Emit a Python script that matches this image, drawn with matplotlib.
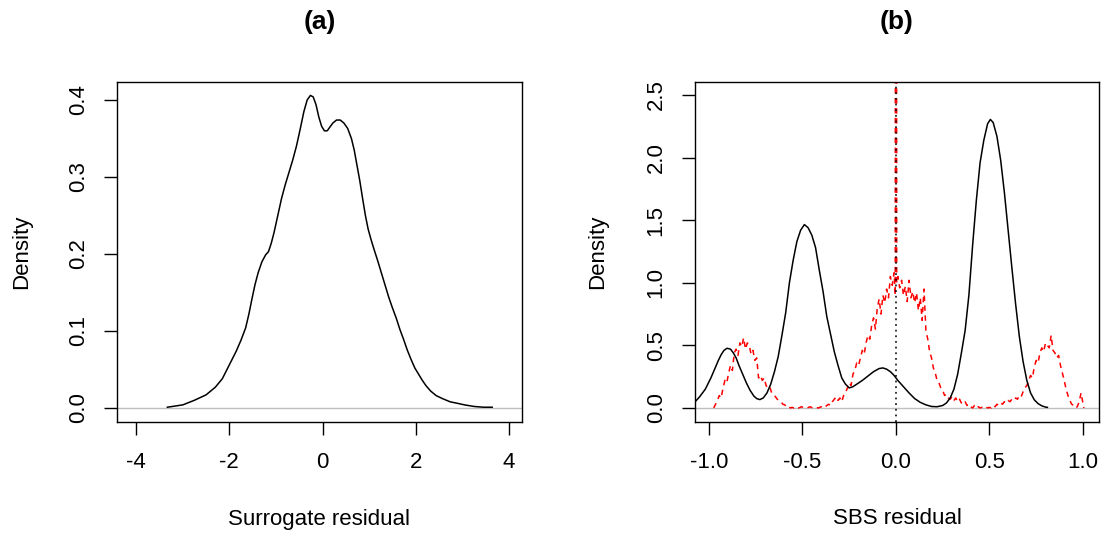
import matplotlib
matplotlib.use("Agg")
import matplotlib.pyplot as plt

plt.rcParams['font.family'] = ['Liberation Sans', 'DejaVu Sans']

# ---- Panel (a): surrogate residual density ----
a_x = [-3.33, -3.0, -2.75, -2.5, -2.3, -2.15, -2.05, -1.95, -1.85, -1.75, -1.65,
       -1.58, -1.52, -1.45, -1.38, -1.30, -1.22, -1.16, -1.10, -1.04, -0.96, -0.88,
       -0.80, -0.72, -0.64, -0.56, -0.48, -0.40, -0.33, -0.26, -0.20, -0.14, -0.08,
       -0.02, 0.04, 0.10, 0.16, 0.22, 0.30, 0.38, 0.46, 0.54, 0.62, 0.68, 0.74,
       0.80, 0.86, 0.92, 0.98, 1.04, 1.10, 1.18, 1.26, 1.34, 1.42, 1.50, 1.58,
       1.66, 1.74, 1.82, 1.90, 1.98, 2.06, 2.14, 2.22, 2.32, 2.44, 2.58, 2.74,
       2.90, 3.05, 3.25, 3.45, 3.64]
a_y = [0.001, 0.004, 0.010, 0.017, 0.027, 0.038, 0.050, 0.062, 0.074, 0.088, 0.104,
       0.122, 0.140, 0.160, 0.176, 0.190, 0.199, 0.203, 0.214, 0.228, 0.250, 0.272,
       0.290, 0.306, 0.322, 0.340, 0.362, 0.385, 0.400, 0.406, 0.404, 0.394, 0.378,
       0.366, 0.360, 0.360, 0.365, 0.370, 0.374, 0.374, 0.370, 0.363, 0.350, 0.335, 0.315,
       0.295, 0.272, 0.250, 0.232, 0.219, 0.207, 0.192, 0.176, 0.160, 0.144, 0.130, 0.117,
       0.102, 0.089, 0.075, 0.063, 0.052, 0.044, 0.036, 0.029, 0.022, 0.016, 0.012, 0.008,
       0.006, 0.004, 0.002, 0.001, 0.001]
a_xticks = [-4, -2, 0, 2, 4]
a_yticks = [0.0, 0.1, 0.2, 0.3, 0.4]

# ---- Panel (b): SBS residual density (black) ----
b_x = [-1.12, -1.08, -1.05, -1.02, -0.99, -0.97, -0.95, -0.935, -0.92, -0.904, -0.885,
       -0.870, -0.855, -0.84, -0.82, -0.80, -0.78, -0.76, -0.745, -0.728, -0.71, -0.69,
       -0.67, -0.65, -0.63, -0.61, -0.59, -0.57, -0.55, -0.53, -0.51, -0.49, -0.47,
       -0.45, -0.43, -0.41, -0.39, -0.37, -0.35, -0.33, -0.31, -0.29, -0.27, -0.25,
       -0.23, -0.21, -0.18, -0.15, -0.12, -0.09, -0.07, -0.05, -0.03, -0.01, 0.01,
       0.04, 0.07, 0.10, 0.13, 0.16, 0.19, 0.22, 0.25, 0.27, 0.29, 0.31, 0.33, 0.35,
       0.37, 0.39, 0.41, 0.43, 0.45, 0.47, 0.49, 0.505, 0.52, 0.54, 0.56, 0.58, 0.60,
       0.62, 0.64, 0.66, 0.68, 0.70, 0.72, 0.74, 0.76, 0.78, 0.80, 0.81]
b_y = [0.0, 0.04, 0.09, 0.15, 0.24, 0.31, 0.38, 0.426, 0.46, 0.477, 0.47,
       0.44, 0.40, 0.34, 0.27, 0.20, 0.14, 0.095, 0.075, 0.067, 0.08, 0.12,
       0.19, 0.29, 0.41, 0.58, 0.76, 1.00, 1.18, 1.33, 1.42, 1.465, 1.44,
       1.38, 1.28, 1.10, 0.93, 0.73, 0.59, 0.45, 0.34, 0.24, 0.19, 0.16,
       0.17, 0.19, 0.22, 0.255, 0.29, 0.315, 0.32, 0.31, 0.29, 0.26, 0.22,
       0.17, 0.12, 0.075, 0.045, 0.025, 0.012, 0.010, 0.02, 0.04, 0.08, 0.15, 0.27, 0.44,
       0.62, 0.90, 1.30, 1.66, 1.96, 2.14, 2.27, 2.305, 2.28, 2.17, 1.98, 1.72, 1.42,
       1.12, 0.83, 0.57, 0.37, 0.22, 0.12, 0.065, 0.035, 0.017, 0.007, 0.005]

# ---- Panel (b): red dashed density ----
r_x = [-0.975, -0.965, -0.955, -0.945, -0.935, -0.925, -0.915, -0.905, -0.895, -0.885,
       -0.875, -0.865, -0.855, -0.845, -0.835, -0.825, -0.815, -0.805, -0.795, -0.785,
       -0.775, -0.765, -0.755, -0.745, -0.735, -0.725, -0.715, -0.705, -0.695, -0.685,
       -0.675, -0.665, -0.655, -0.645, -0.635, -0.625, -0.615, -0.605, -0.595, -0.585,
       -0.575, -0.565, -0.555, -0.545, -0.535, -0.52, -0.505, -0.49, -0.475, -0.46,
       -0.445, -0.43, -0.415, -0.40, -0.385, -0.37, -0.36, -0.35, -0.34, -0.33,
       -0.32, -0.31, -0.30, -0.29, -0.28, -0.27, -0.26, -0.25, -0.24, -0.23,
       -0.22, -0.21, -0.20, -0.19, -0.18, -0.17, -0.16, -0.15, -0.14, -0.13,
       -0.12, -0.11, -0.10, -0.09, -0.08, -0.07, -0.06, -0.05, -0.04, -0.03,
       -0.02, -0.01, -0.004, 0.0, 0.004, 0.01, 0.02, 0.03, 0.04, 0.05,
       0.06, 0.07, 0.08, 0.09, 0.10, 0.11, 0.12, 0.13, 0.14, 0.15,
       0.16, 0.17, 0.18, 0.19, 0.20, 0.21, 0.22, 0.23, 0.24, 0.25,
       0.26, 0.27, 0.28, 0.29, 0.30, 0.31, 0.32, 0.33, 0.34, 0.35,
       0.36, 0.37, 0.38, 0.39, 0.40, 0.41, 0.42, 0.43, 0.44, 0.45,
       0.46, 0.47, 0.48, 0.49, 0.50, 0.51, 0.52, 0.53, 0.54, 0.55,
       0.56, 0.57, 0.58, 0.59, 0.60, 0.61, 0.62, 0.63, 0.64, 0.65,
       0.66, 0.67, 0.68, 0.69, 0.70, 0.71, 0.72, 0.73, 0.74, 0.75,
       0.76, 0.77, 0.78, 0.79, 0.80, 0.81, 0.82, 0.83, 0.84, 0.85,
       0.86, 0.87, 0.88, 0.89, 0.90, 0.91, 0.92, 0.93, 0.94, 0.95,
       0.96, 0.97, 0.98, 0.99, 1.00, 1.005]
r_y = [0.0, 0.03, 0.06, 0.10, 0.08, 0.16, 0.22, 0.20, 0.28, 0.34,
       0.30, 0.44, 0.47, 0.42, 0.52, 0.49, 0.56, 0.47, 0.52, 0.50,
       0.43, 0.46, 0.38, 0.40, 0.24, 0.26, 0.22, 0.24, 0.18, 0.16,
       0.17, 0.12, 0.11, 0.09, 0.07, 0.06, 0.05, 0.03, 0.025, 0.01,
       0.015, 0.0, 0.005, 0.0, 0.01, 0.0, 0.01, 0.0, 0.0, 0.01,
       0.0, 0.005, 0.0, 0.01, 0.0, 0.02, 0.03, 0.02, 0.05, 0.07,
       0.09, 0.06, 0.08, 0.05, 0.10, 0.12, 0.16, 0.20, 0.18, 0.27,
       0.30, 0.36, 0.34, 0.40, 0.46, 0.43, 0.52, 0.58, 0.55, 0.66,
       0.72, 0.63, 0.80, 0.87, 0.75, 0.90, 0.84, 0.95, 0.88, 1.05,
       0.98, 1.08, 0.90, 12.0, 1.00, 1.05, 0.96, 1.02, 0.90, 0.97,
       0.85, 1.02, 0.88, 0.93, 0.84, 0.92, 0.78, 0.88, 0.70, 0.95,
       0.62, 0.55, 0.45, 0.40, 0.32, 0.28, 0.22, 0.20, 0.16, 0.14,
       0.10, 0.11, 0.08, 0.07, 0.09, 0.06, 0.08, 0.05, 0.07, 0.04,
       0.03, 0.05, 0.02, 0.03, 0.01, 0.0, 0.02, 0.0, 0.01, 0.0,
       0.005, 0.0, 0.01, 0.0, 0.005, 0.0, 0.02, 0.01, 0.03, 0.02,
       0.04, 0.03, 0.05, 0.04, 0.06, 0.05, 0.07, 0.06, 0.08, 0.07,
       0.10, 0.09, 0.13, 0.16, 0.18, 0.22, 0.26, 0.24, 0.33, 0.38,
       0.36, 0.44, 0.48, 0.45, 0.52, 0.50, 0.48, 0.58, 0.46, 0.44,
       0.40, 0.42, 0.34, 0.28, 0.22, 0.15, 0.10, 0.06, 0.03, 0.02,
       0.0, 0.01, 0.05, 0.12, 0.04, 0.0]
b_xticks = [-1.0, -0.5, 0.0, 0.5, 1.0]
b_yticks = [0.0, 0.5, 1.0, 1.5, 2.0, 2.5]

W, H = 1102, 535
fig = plt.figure(figsize=(W / 100, H / 100), dpi=100)

def px_axes(left, right, top, bottom):
    return fig.add_axes([left / W, (H - bottom) / H, (right - left) / W, (bottom - top) / H])

ax1 = px_axes(117, 522, 82, 422)
ax2 = px_axes(695, 1099, 82, 422)

FS = 16
TITLE_FS = 19

def style(ax, xticks, yticks, xfmt, yfmt, xlabel, title):
    for s in ax.spines.values():
        s.set_linewidth(1.0)
        s.set_color('black')
    ax.set_xticks(xticks)
    ax.set_xticklabels([xfmt(v) for v in xticks])
    ax.set_yticks(yticks)
    ax.set_yticklabels([yfmt(v) for v in yticks], rotation=90, va='center')
    ax.tick_params(axis='both', direction='out', length=9.4, width=1.0,
                   labelsize=FS, colors='black')
    ax.tick_params(axis='x', pad=12)
    ax.tick_params(axis='y', pad=11)
    ax.set_xlabel(xlabel, fontsize=FS)
    ax.xaxis.label.set_va('center')
    ax.xaxis.set_label_coords(0.5, (422 - 519) / 340)
    ax.set_ylabel('Density', fontsize=FS)
    ax.yaxis.label.set_va('center')
    ax.set_title(title, fontsize=TITLE_FS, fontweight='bold', y=(422 - 30) / 340, va='center')

def fmt_int(v):
    return f"{v:d}"

def fmt1(v):
    return f"{v:.1f}"

# Panel (a)
ax1.axhline(0, color='#BEBEBE', lw=1.0, zorder=1)
ax1.plot(a_x, a_y, color='black', lw=1.1, zorder=2)
ax1.set_xlim(-4.41, 4.28)
ax1.set_ylim(-0.0182, 0.4234)
style(ax1, a_xticks, a_yticks, fmt_int, fmt1, 'Surrogate residual', '(a)')
ax1.yaxis.set_label_coords((22 - 117) / 405, 0.5)

# Panel (b)
ax2.axhline(0, color='#BEBEBE', lw=1.0, zorder=1)
ax2.plot(b_x, b_y, color='black', lw=1.1, zorder=3)
ax2.plot(r_x, r_y, color='red', lw=1.1, linestyle=(0, (3.5, 3.0)), zorder=2)
ax2.axvline(0, color='black', lw=1.1, linestyle=(0, (1.2, 2.5)), zorder=4)
ax2.set_xlim(-1.075, 1.086)
ax2.set_ylim(-0.112, 2.604)
style(ax2, b_xticks, b_yticks, fmt1, fmt1, 'SBS residual', '(b)')
ax2.yaxis.set_label_coords((598 - 695) / 404, 0.5)

fig.savefig('out.png', dpi=100)
